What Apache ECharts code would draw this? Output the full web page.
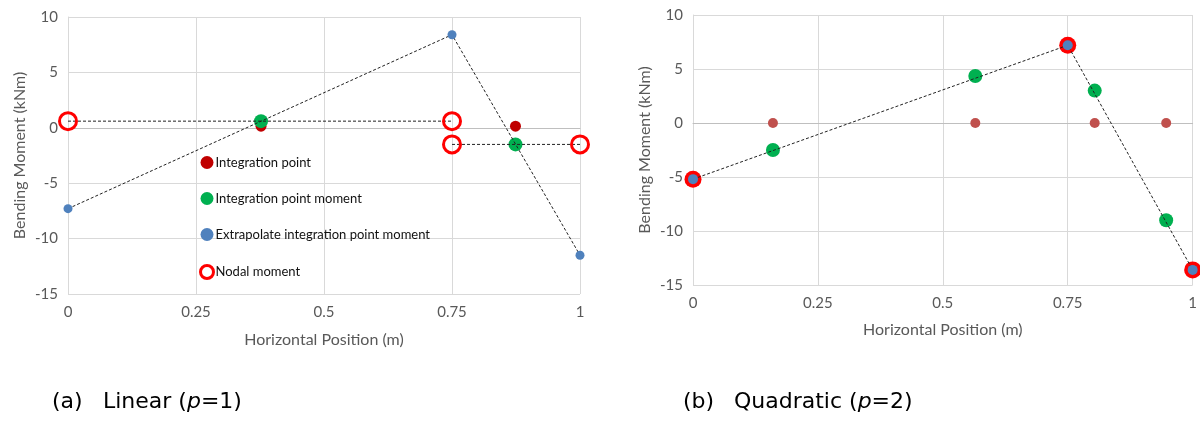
<!DOCTYPE html>
<html>
<head>
<meta charset="utf-8">
<script src="https://cdn.jsdelivr.net/npm/echarts@6/dist/echarts.min.js"></script>
<style>
html,body{margin:0;padding:0;background:#fff;}
#chart{width:1200px;height:421px;}
</style>
</head>
<body>
<div id="chart"></div>
<script>
// ---------- data ----------
var xTicks = [0, 0.25, 0.5, 0.75, 1];
var yTicks = [-15, -10, -5, 0, 5, 10];

// (a) Linear p=1
var linIntPoint = [[0.377, 0.15], [0.874, 0.15]];
var linIntMoment = [[0.377, 0.6], [0.874, -1.5]];
var linExtrap = [[0, -7.3], [0.75, 8.4], [1, -11.5]];
var linNodalElem1 = [[0, 0.6], [0.75, 0.6]];
var linNodalElem2 = [[0.75, -1.5], [1, -1.5]];

// (b) Quadratic p=2
var quadIntPoint = [[0.16, 0], [0.565, 0], [0.804, 0], [0.947, 0]];
var quadIntMoment = [[0.16, -2.5], [0.565, 4.35], [0.804, 3.0], [0.947, -9.0]];
var quadExtrap = [[0, -5.2], [0.75, 7.2], [1, -13.6]];
var quadNodal = [[0, -5.2], [0.75, 7.2], [1, -13.6]];

var legendNames = ['Integration point', 'Integration point moment', 'Extrapolate integration point moment', 'Nodal moment'];
var captionA = ['(a)', 'Linear (', 'p', '=1)'];
var captionB = ['(b)', 'Quadratic (', 'p', '=2)'];

// ---------- styles ----------
var FONT = 'Lato, "Open Sans", sans-serif';
var CAPFONT = '"DejaVu Sans", sans-serif';
var CAPSIZE = '22px ';
var gray = '#595959';
var gridColor = '#d9d9d9';

function xAxis(gi) {
  return {
    type: 'value', gridIndex: gi, min: 0, max: 1, interval: 0.25,
    name: 'Horizontal Position (m)', nameLocation: 'middle', nameGap: gi === 0 ? 38 : 37,
    nameTextStyle: {color: gray, fontSize: 16, fontFamily: FONT},
    axisLine: {show: true, lineStyle: {color: '#bfbfbf', width: 1}},
    axisTick: {show: false},
    axisLabel: {color: gray, fontSize: 15, fontFamily: FONT, margin: 11,
      formatter: function (v) { return String(v); }},
    splitLine: {show: true, lineStyle: {color: gridColor, width: 1}}
  };
}
function yAxis(gi) {
  return {
    type: 'value', gridIndex: gi, min: -15, max: 10, interval: 5,
    name: 'Bending Moment (kNm)', nameLocation: 'middle', nameGap: 40, nameRotate: 90,
    nameTextStyle: {color: gray, fontSize: 16, fontFamily: FONT},
    axisLine: {show: true, onZero: false, lineStyle: {color: gridColor, width: 1}},
    axisTick: {show: false},
    axisLabel: {color: gray, fontSize: 15, fontFamily: FONT, margin: 10},
    splitLine: {show: true, lineStyle: {color: gridColor, width: 1}}
  };
}
var dashLine = {color: '#222', width: 1, type: [3, 2]};

function caption(left, parts) {
  return [
    {type: 'text', left: left, top: 391, style: {text: parts[0], font: CAPSIZE + CAPFONT, fill: '#000'}},
    {type: 'text', left: left + 51, top: 391, style: {
      text: '{n|' + parts[1] + '}{i|' + parts[2] + '}{n|' + parts[3] + '}',
      rich: {n: {font: CAPSIZE + CAPFONT, fill: '#000'}, i: {font: 'italic ' + CAPSIZE + CAPFONT, fill: '#000'}}}}
  ];
}

var option = {
  animation: false,
  backgroundColor: '#fff',
  grid: [
    {left: 68, right: 620, top: 17, bottom: 127},
    {left: 693, right: 5, top: 15, bottom: 136}
  ],
  xAxis: [xAxis(0), xAxis(1)],
  yAxis: [yAxis(0), yAxis(1)],
  legend: {
    orient: 'vertical', left: 194, top: 151, itemGap: 23,
    itemWidth: 13, itemHeight: 13,
    textStyle: {color: '#111', fontSize: 13, fontFamily: FONT, padding: [0, 0, 0, -3]},
    data: [
      {name: legendNames[0], icon: 'circle', itemStyle: {color: '#c00000'}},
      {name: legendNames[1], icon: 'circle', itemStyle: {color: '#00b050'}},
      {name: legendNames[2], icon: 'circle', itemStyle: {color: '#4f81bd'}},
      {name: legendNames[3], icon: 'circle', itemStyle: {color: '#fff', borderColor: '#ff0000', borderWidth: 3}}
    ]
  },
  graphic: caption(52, captionA).concat(caption(683, captionB)),
  series: [
    // ---- (a) ----
    {name: legendNames[0], type: 'scatter', xAxisIndex: 0, yAxisIndex: 0, data: linIntPoint,
      symbolSize: 11, itemStyle: {color: '#c00000', opacity: 1}, z: 2},
    {name: legendNames[1], type: 'scatter', xAxisIndex: 0, yAxisIndex: 0, data: linIntMoment,
      symbolSize: 14, itemStyle: {color: '#00b050', opacity: 1}, z: 3},
    {name: legendNames[2], type: 'line', xAxisIndex: 0, yAxisIndex: 0, data: linExtrap,
      symbol: 'circle', symbolSize: 9, itemStyle: {color: '#4f81bd'}, lineStyle: dashLine, z: 4},
    {name: legendNames[3], type: 'line', xAxisIndex: 0, yAxisIndex: 0, data: linNodalElem1,
      symbol: 'circle', symbolSize: 17, itemStyle: {color: 'rgba(255,255,255,0)', borderColor: '#ff0000', borderWidth: 3},
      lineStyle: dashLine, z: 5},
    {name: legendNames[3], type: 'line', xAxisIndex: 0, yAxisIndex: 0, data: linNodalElem2,
      symbol: 'circle', symbolSize: 17, itemStyle: {color: 'rgba(255,255,255,0)', borderColor: '#ff0000', borderWidth: 3},
      lineStyle: dashLine, z: 5},
    // ---- (b) ----
    {name: 'b-int', type: 'scatter', xAxisIndex: 1, yAxisIndex: 1, data: quadIntPoint,
      symbolSize: 10, itemStyle: {color: '#c0504d', opacity: 1}, z: 2},
    {name: 'b-mom', type: 'scatter', xAxisIndex: 1, yAxisIndex: 1, data: quadIntMoment,
      symbolSize: 14, itemStyle: {color: '#00b050', opacity: 1}, z: 3},
    {name: 'b-nodal', type: 'scatter', xAxisIndex: 1, yAxisIndex: 1, data: quadNodal,
      symbolSize: 17, itemStyle: {color: '#ff0000', opacity: 1}, z: 4},
    {name: 'b-extrap', type: 'line', xAxisIndex: 1, yAxisIndex: 1, data: quadExtrap,
      symbol: 'circle', symbolSize: 10, itemStyle: {color: '#4f81bd'}, lineStyle: dashLine, z: 5}
  ]
};

var chart = echarts.init(document.getElementById('chart'), null, {renderer: 'canvas'});
chart.setOption(option);
</script>
</body>
</html>
